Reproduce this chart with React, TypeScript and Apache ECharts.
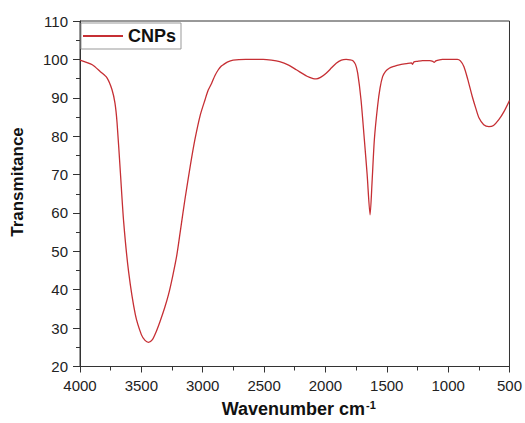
import React, { useEffect, useRef } from "react";
import * as echarts from "echarts";

const wavenumbers = [
  4000, 3900, 3834, 3780, 3739, 3715, 3698, 3671, 3644, 3604, 3549, 3500, 3470, 3442,
  3410, 3380, 3347, 3310, 3279, 3245, 3211, 3180, 3144, 3100, 3063, 3020, 2981, 2955,
  2927, 2900, 2873, 2850, 2833, 2800, 2752, 2650, 2508, 2440, 2373, 2300, 2237, 2150,
  2100, 2075, 2040, 1994, 1950, 1912, 1870, 1831, 1800, 1778, 1755, 1737, 1710, 1683,
  1660, 1636, 1620, 1601, 1575, 1555, 1534, 1510, 1480, 1440, 1398, 1340, 1300, 1290,
  1280, 1250, 1209, 1150, 1125, 1114, 1100, 1070, 1047, 980, 925, 900, 871, 840, 804,
  775, 749, 710, 668, 630, 587, 545, 500
];
const transmittance = [
  99.8, 98.6, 96.8, 95.2, 92.1, 88.6, 83.5, 70.6, 57.6, 44.7, 33.5, 28.3, 26.8, 26.3,
  27.0, 29.0, 31.8, 35.3, 38.7, 43.5, 49.0, 55.8, 63.7, 72.5, 79.2, 85.5, 89.5, 92.0,
  93.8, 95.8, 97.3, 98.2, 98.6, 99.3, 99.8, 100.0, 100.0, 99.8, 99.4, 98.5, 97.3, 95.6,
  95.0, 94.9, 95.3, 96.4, 97.8, 99.0, 99.8, 100.0, 99.9, 99.7, 98.7, 96.4, 89.5, 79.2,
  70.0, 59.5, 68.0, 79.2, 87.8, 92.5, 95.5, 96.9, 97.7, 98.2, 98.6, 98.9, 99.1, 98.7,
  99.3, 99.5, 99.7, 99.7, 99.5, 99.2, 99.6, 99.9, 100.0, 100.0, 100.0, 99.6, 98.1, 94.8,
  90.4, 87.3, 84.8, 83.0, 82.5, 82.8, 84.3, 86.4, 89.3
];
const xTicks = [4000, 3500, 3000, 2500, 2000, 1500, 1000, 500];
const yTicks = [20, 30, 40, 50, 60, 70, 80, 90, 100, 110];
const seriesName = "CNPs";
const xTitle = "Wavenumber cm";
const xTitleSup = "-1";
const yTitle = "Transmitance";

export default function App() {
  const ref = useRef<HTMLDivElement>(null);
  useEffect(() => {
    if (!ref.current) return;
    const chart = echarts.init(ref.current, undefined, { renderer: "svg" });
    const data = wavenumbers.map((w, i) => [w, transmittance[i]]);
    const font = "Liberation Sans, Arial, sans-serif";
    const lineColor = "#c62f34";
    chart.setOption({
      animation: false,
      backgroundColor: "#ffffff",
      grid: {
        left: 80,
        right: 14,
        top: 21,
        bottom: 54,
        show: true,
        borderColor: "#333",
        borderWidth: 1,
        backgroundColor: "transparent",
      },
      legend: {
        show: true,
        left: 81,
        top: 23,
        orient: "vertical",
        itemWidth: 40,
        itemHeight: 2,
        itemGap: 0,
        padding: [4, 5, 4, 2],
        borderColor: "#999",
        borderWidth: 1,
        backgroundColor: "#fff",
        icon: "rect",
        textStyle: { fontFamily: font, fontSize: 18, fontWeight: "bold", color: "#111" },
        data: [{ name: seriesName, itemStyle: { color: lineColor } }],
      },
      graphic: [
        {
          type: "text",
          x: 17,
          y: 182,
          rotation: Math.PI / 2,
          style: {
            text: yTitle,
            align: "center",
            verticalAlign: "middle",
            font: `bold 17px ${font}`,
            fill: "#111",
          },
        },
      ],
      xAxis: {
        type: "value",
        min: 500,
        max: 4000,
        interval: 500,
        inverse: true,
        name: `{a|${xTitle}}{b|${xTitleSup}}`,
        nameLocation: "middle",
        nameGap: 33,
        nameTextStyle: {
          padding: [0, 0, 0, 8],
          rich: {
            a: { fontFamily: font, fontSize: 18, fontWeight: "bold", color: "#111" },
            b: { fontFamily: font, fontSize: 11, fontWeight: "bold", color: "#111", verticalAlign: "top", padding: [0, 0, 8, 1] },
          },
        },
        axisLine: { show: true, onZero: false, lineStyle: { color: "#333", width: 1 } },
        axisTick: { show: true, length: 6, inside: false, lineStyle: { color: "#333" } },
        minorTick: { show: true, splitNumber: 2, length: 4, lineStyle: { color: "#333" } },
        axisLabel: {
          fontFamily: font,
          fontSize: 15,
          color: "#222",
          margin: 11,
          formatter: (v: number) => (xTicks.includes(v) ? String(v) : ""),
        },
        splitLine: { show: false },
      },
      yAxis: {
        type: "value",
        min: 20,
        max: 110,
        interval: 10,
        axisLine: { show: true, onZero: false, lineStyle: { color: "#333", width: 1 } },
        axisTick: { show: true, length: 7, inside: false, lineStyle: { color: "#333" } },
        minorTick: { show: true, splitNumber: 2, length: 4, lineStyle: { color: "#333" } },
        axisLabel: {
          fontFamily: font,
          fontSize: 15,
          color: "#222",
          margin: 12,
          formatter: (v: number) => (yTicks.includes(v) ? String(v) : ""),
        },
        splitLine: { show: false },
      },
      series: [
        {
          name: seriesName,
          type: "line",
          data,
          smooth: 0.25,
          showSymbol: false,
          symbol: "none",
          lineStyle: { color: lineColor, width: 1.3 },
          itemStyle: { color: lineColor },
        },
      ],
    });
    return () => chart.dispose();
  }, []);
  return (
    <div
      ref={ref}
      style={{ position: "absolute", left: 0, top: 0, width: 525, height: 423 }}
    />
  );
}
